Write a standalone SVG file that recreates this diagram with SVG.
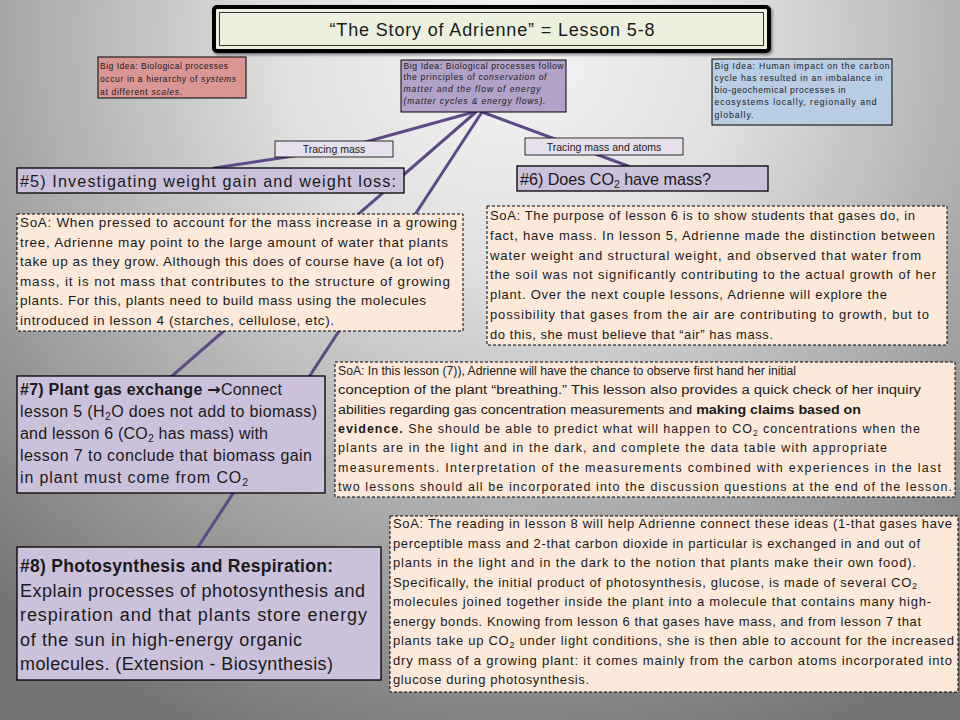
<svg xmlns="http://www.w3.org/2000/svg" width="960" height="720" viewBox="0 0 960 720">
<defs>
<radialGradient id="bg" gradientUnits="userSpaceOnUse" cx="510" cy="40" r="760">
<stop offset="0" stop-color="#f6f6f6"/>
<stop offset="0.3" stop-color="#e0e0e0"/>
<stop offset="0.65" stop-color="#a9a9a9"/>
<stop offset="1" stop-color="#737373"/>
</radialGradient>
<filter id="sh" x="-5%" y="-20%" width="110%" height="140%">
<feDropShadow dx="1.5" dy="2" stdDeviation="1.5" flood-color="#000" flood-opacity="0.45"/>
</filter>
</defs>
<style>
.t{font-family:"Liberation Sans",Arial,sans-serif;fill:#1a1a1a}
.soa{fill:#fde9d9;stroke:#000;stroke-width:1;stroke-dasharray:3 2}
.lesson{fill:#ccc1da;stroke:#000;stroke-width:1.3}
.lab{fill:#e6e0ec;stroke:#000;stroke-width:0.8}
.conn{stroke:#5e4a86;stroke-width:3;fill:none;stroke-linecap:round}
.s12{font-size:12.5px}
.s13{font-size:13px}
.s135{font-size:13.5px}
.b{font-weight:bold}
.i{font-style:italic}
.arr{font-family:"DejaVu Sans",sans-serif}
</style>
<rect x="0" y="0" width="960" height="720" fill="url(#bg)"/>

<g id="connectors">
<polyline class="conn" points="474,112 340,149 214,168"/>
<line class="conn" x1="482" y1="112" x2="628" y2="166"/>
<line class="conn" x1="476" y1="112" x2="172" y2="376"/>
<line class="conn" x1="482" y1="112" x2="198" y2="547"/>
</g>

<g id="title">
<rect x="214" y="7" width="555" height="44" rx="3" fill="#ebf1de" stroke="#000" stroke-width="4" filter="url(#sh)"/>
<rect x="219.5" y="12.5" width="544" height="33" fill="none" stroke="#333" stroke-width="1"/>
<text class="t" x="492" y="35.5" font-size="18" text-anchor="middle" textLength="325">“The Story of Adrienne” = Lesson 5-8</text>
</g>

<g id="bigidea1">
<rect x="98" y="57" width="148" height="41" fill="#d99694" stroke="#000" stroke-width="1"/>
<text class="t" font-size="8.5" x="100" y="69" textLength="128">Big Idea: Biological processes</text>
<text class="t" font-size="8.5" x="100" y="82" textLength="136">occur in a hierarchy of <tspan class="i">systems</tspan></text>
<text class="t" font-size="8.5" x="100" y="95" textLength="82">at different <tspan class="i">scales</tspan>.</text>
</g>

<g id="bigidea2">
<rect x="401" y="60" width="165" height="52" fill="#b3a2c7" stroke="#000" stroke-width="1"/>
<text class="t" font-size="8.6" x="403.5" y="68.5" textLength="160">Big Idea: Biological processes follow</text>
<text class="t" font-size="8.6" x="403.5" y="80.2" textLength="143">the principles of <tspan class="i">conservation of</tspan></text>
<text class="t i" font-size="8.6" x="403.5" y="91.9" textLength="137">matter and the flow of energy</text>
<text class="t i" font-size="8.6" x="403.5" y="103.6" textLength="142">(matter cycles &amp; energy flows).</text>
</g>

<g id="bigidea3">
<rect x="712" y="59" width="180" height="66" fill="#b9cde5" stroke="#000" stroke-width="1"/>
<text class="t" font-size="8.6" x="714.5" y="68.7" textLength="175">Big Idea: Human impact on the carbon</text>
<text class="t" font-size="8.6" x="714.5" y="80.9" textLength="168">cycle has resulted in an imbalance in</text>
<text class="t" font-size="8.6" x="714.5" y="93.1" textLength="131">bio-geochemical processes in</text>
<text class="t" font-size="8.6" x="714.5" y="105.3" textLength="162">ecosystems locally, regionally and</text>
<text class="t" font-size="8.6" x="714.5" y="117.5" textLength="39">globally.</text>
</g>

<g id="label-tracing-mass">
<rect class="lab" x="275" y="141" width="118" height="16"/>
<text class="t" font-size="10.5" x="334" y="152.5" text-anchor="middle">Tracing mass</text>
</g>

<g id="label-tracing-atoms">
<rect class="lab" x="525" y="138" width="158" height="17"/>
<text class="t" font-size="10.5" x="604" y="150.5" text-anchor="middle">Tracing mass and atoms</text>
</g>

<g id="lesson5">
<rect class="lesson" x="17" y="168" width="387" height="25"/>
<text class="t" font-size="16.2" x="20" y="186.5" textLength="376">#5) Investigating weight gain and weight loss:</text>
</g>

<g id="lesson6">
<rect class="lesson" x="517" y="166" width="251" height="25"/>
<text class="t" font-size="16.2" x="520" y="184.5" textLength="191">#6) Does CO<tspan dy="3" font-size="10.5">2</tspan><tspan dy="-3"> have mass?</tspan></text>
</g>

<g id="soa5">
<rect class="soa" x="17" y="214" width="446" height="117"/>
<text class="t s135" x="20" y="227" textLength="437">SoA: When pressed to account for the mass increase in a growing</text>
<text class="t s135" x="20" y="246.5" textLength="428">tree, Adrienne may point to the large amount of water that plants</text>
<text class="t s135" x="20" y="266" textLength="424">take up as they grow. Although this does of course have (a lot of)</text>
<text class="t s135" x="20" y="285.5" textLength="430">mass, it is not mass that contributes to the structure of growing</text>
<text class="t s135" x="20" y="305" textLength="406">plants. For this, plants need to build mass using the molecules</text>
<text class="t s135" x="20" y="324.5" textLength="314">introduced in lesson 4 (starches, cellulose, etc).</text>
</g>

<g id="soa6">
<rect class="soa" x="487" y="206" width="460" height="139"/>
<text class="t s13" x="490" y="220" textLength="425">SoA: The purpose of lesson 6 is to show students that gases do, in</text>
<text class="t s13" x="490" y="239.8" textLength="445">fact, have mass. In lesson 5, Adrienne made the distinction between</text>
<text class="t s13" x="490" y="259.6" textLength="431">water weight and structural weight, and observed that water from</text>
<text class="t s13" x="490" y="279.4" textLength="446">the soil was not significantly contributing to the actual growth of her</text>
<text class="t s13" x="490" y="299.2" textLength="397">plant. Over the next couple lessons, Adrienne will explore the</text>
<text class="t s13" x="490" y="319" textLength="439">possibility that gases from the air are contributing to growth, but to</text>
<text class="t s13" x="490" y="338.8" textLength="283">do this, she must believe that “air” has mass.</text>
</g>

<g id="lesson7">
<rect class="lesson" x="17" y="376" width="308" height="117"/>
<text class="t" font-size="16" x="20" y="395" textLength="262"><tspan class="b">#7) Plant gas exchange </tspan><tspan class="arr b">→</tspan>Connect</text>
<text class="t" font-size="16" x="20" y="417" textLength="297">lesson 5 (H<tspan dy="3" font-size="10.5">2</tspan><tspan dy="-3">O does not add to biomass)</tspan></text>
<text class="t" font-size="16" x="20" y="439" textLength="248">and lesson 6 (CO<tspan dy="3" font-size="10.5">2</tspan><tspan dy="-3"> has mass) with</tspan></text>
<text class="t" font-size="16" x="20" y="461" textLength="292">lesson 7 to conclude that biomass gain</text>
<text class="t" font-size="16" x="20" y="483" textLength="228">in plant must come from CO<tspan dy="3" font-size="10.5">2</tspan></text>
</g>

<g id="soa7">
<rect class="soa" x="335" y="362" width="620" height="135"/>
<text class="t" font-size="13" x="338" y="375" textLength="458" lengthAdjust="spacingAndGlyphs">SoA: In this lesson (7)), Adrienne will have the chance to observe first hand her initial</text>
<text class="t s12" x="338" y="394.3" textLength="583" lengthAdjust="spacingAndGlyphs">conception of the plant “breathing.” This lesson also provides a quick check of her inquiry</text>
<text class="t s12" x="338" y="413.6" textLength="523" lengthAdjust="spacingAndGlyphs">abilities regarding gas concentration measurements and <tspan class="b">making claims based on</tspan></text>
<text class="t s12" x="338" y="433" textLength="582"><tspan class="b">evidence.</tspan>  She should be able to predict what will happen to CO<tspan dy="2.5" font-size="8.5">2</tspan><tspan dy="-2.5"> concentrations when the</tspan></text>
<text class="t s12" x="338" y="452.3" textLength="549">plants are in the light and in the dark, and complete the data table with appropriate</text>
<text class="t s12" x="338" y="471.6" textLength="603">measurements. Interpretation of the measurements combined with experiences in the last</text>
<text class="t s12" x="338" y="491" textLength="614">two lessons should all be incorporated into the discussion questions at the end of the lesson.</text>
</g>

<g id="lesson8">
<rect class="lesson" x="17" y="547" width="364" height="133"/>
<text class="t b" font-size="17.5" x="20" y="572" textLength="313">#8) Photosynthesis  and Respiration:</text>
<text class="t" font-size="18" x="20" y="597" textLength="345">Explain processes of photosynthesis and</text>
<text class="t" font-size="18" x="20" y="621" textLength="347">respiration and that plants store energy</text>
<text class="t" font-size="18" x="20" y="646" textLength="282">of the sun in high-energy organic</text>
<text class="t" font-size="18" x="20" y="670" textLength="313">molecules. (Extension - Biosynthesis)</text>
</g>

<g id="soa8">
<rect class="soa" x="390" y="516" width="568" height="176"/>
<text class="t s13" x="393" y="528" textLength="559">SoA: The reading in lesson 8 will help Adrienne connect these ideas (1-that gases have</text>
<text class="t s13" x="393" y="547.5" textLength="527">perceptible mass and 2-that carbon dioxide in particular is exchanged in and out of</text>
<text class="t s13" x="393" y="567" textLength="523">plants in the light and in the dark to the notion that plants make their own food).</text>
<text class="t s13" x="393" y="586.5" textLength="524">Specifically, the initial product of photosynthesis,  glucose, is made of several CO<tspan dy="2.5" font-size="9">2</tspan></text>
<text class="t s13" x="393" y="606" textLength="538">molecules joined together inside the plant into a molecule that contains many high-</text>
<text class="t s13" x="393" y="625.5" textLength="528">energy bonds.  Knowing from lesson 6 that gases have mass, and from lesson 7 that</text>
<text class="t s13" x="393" y="645" textLength="561">plants take up CO<tspan dy="2.5" font-size="9">2</tspan><tspan dy="-2.5"> under light conditions, she is then able to account for the increased</tspan></text>
<text class="t s13" x="393" y="664.5" textLength="559">dry mass of a growing plant: it comes mainly from the carbon atoms incorporated into</text>
<text class="t s13" x="393" y="684" textLength="196">glucose during photosynthesis.</text>
</g>
</svg>
